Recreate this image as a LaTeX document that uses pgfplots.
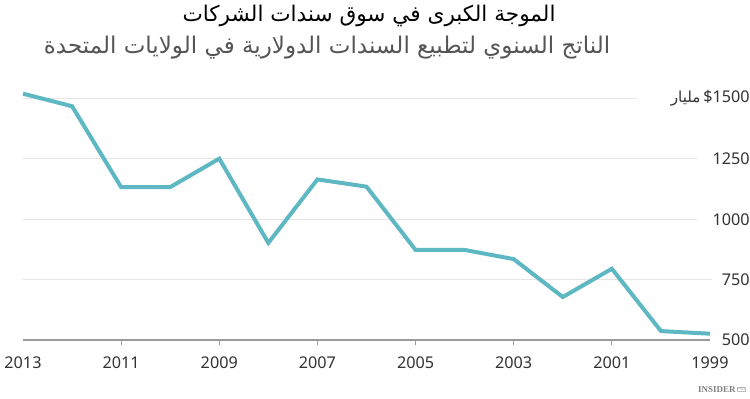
\documentclass[border=0pt]{standalone}
\usepackage{pgfplots}
\pgfplotsset{compat=1.18}
\usepackage{fontspec}
\setmainfont{Noto Sans}
\newfontfamily\arabicfont[Script=Arabic]{DejaVu Sans}
\newfontfamily\wmfont{Liberation Serif}
\TeXXeTstate=1
\definecolor{linec}{HTML}{5DB8C3}
\definecolor{gridc}{HTML}{E4E4E4}
\definecolor{axisc}{HTML}{9A9A9A}
\definecolor{textc}{HTML}{333333}
\definecolor{subc}{HTML}{555555}
\begin{document}
\begin{tikzpicture}
\useasboundingbox (0,0) rectangle (375pt,199pt);
\begin{axis}[
  at={(11.5pt,29pt)}, anchor=south west,
  width=343.5pt, height=120.75pt, scale only axis,
  x dir=reverse,
  xmin=1999, xmax=2013,
  ymin=500, ymax=1500,
  clip=false,
  axis x line*=bottom,
  axis y line*=right,
  y axis line style={draw=none},
  x axis line style={draw=axisc, line width=0.6pt},
  xtick={2011,2009,2007,2005,2003,2001},
  extra x ticks={2013,1999},
  extra x tick style={x tick style={draw=none}},
  x tick style={draw=axisc, line width=0.5pt},
  major tick length=2.5pt,
  tick align=outside,
  xticklabel style={font=\fontsize{8.1}{10}\selectfont, text=textc, inner sep=0pt, yshift=-5.5pt, /pgf/number format/1000 sep={}},
  ytick={500,750,1000,1250,1500},
  yticklabels={500,750,1000,1250,{{\arabicfont\fontsize{7.6}{9}\selectfont\beginR مليار\endR}\,\$1500}},
  y tick style={draw=none},
  yticklabel style={font=\fontsize{8.1}{10}\selectfont, text=textc, anchor=east, inner sep=0pt, xshift=17.5pt},
  /pgf/number format/assume math mode=true,
]
\draw[gridc, line width=0.6pt] (axis cs:2013,1500) -- (axis cs:2000.49,1500);
\draw[gridc, line width=0.6pt] (axis cs:2013,1250) -- (axis cs:1999.26,1250);
\draw[gridc, line width=0.6pt] (axis cs:2013,1000) -- (axis cs:1999.26,1000);
\draw[gridc, line width=0.6pt] (axis cs:2013,750) -- (axis cs:1998.95,750);
\addplot[color=linec, line width=2pt, mark=none] coordinates {
(2013,1520) (2012,1468) (2011,1133) (2010,1133) (2009,1251) (2008,902)
(2007,1165) (2006,1135) (2005,873) (2004,873) (2003,835) (2002,678)
(2001,795) (2000,537) (1999,526)
};
\end{axis}
\node[font=\fontsize{10.8}{13}\arabicfont, text=black] at (184.5pt,191pt) {\beginR الموجة الكبرى في سوق سندات الشركات\endR};
\node[font=\fontsize{11.5}{14}\arabicfont, text=subc] at (163.5pt,175pt) {\beginR الناتج السنوي لتطبيع السندات الدولارية في الولايات المتحدة\endR};
\node[font=\fontsize{4.5}{5}\wmfont\bfseries, text=gray, anchor=east, inner sep=0pt] at (368pt,4pt) {INSIDER};
\node[font=\fontsize{2}{2}\selectfont\bfseries, text=gray!70, anchor=west, inner sep=0.2pt, draw=gray!50, line width=0.2pt] at (368.3pt,4.3pt) {PRO};
\end{tikzpicture}
\end{document}
